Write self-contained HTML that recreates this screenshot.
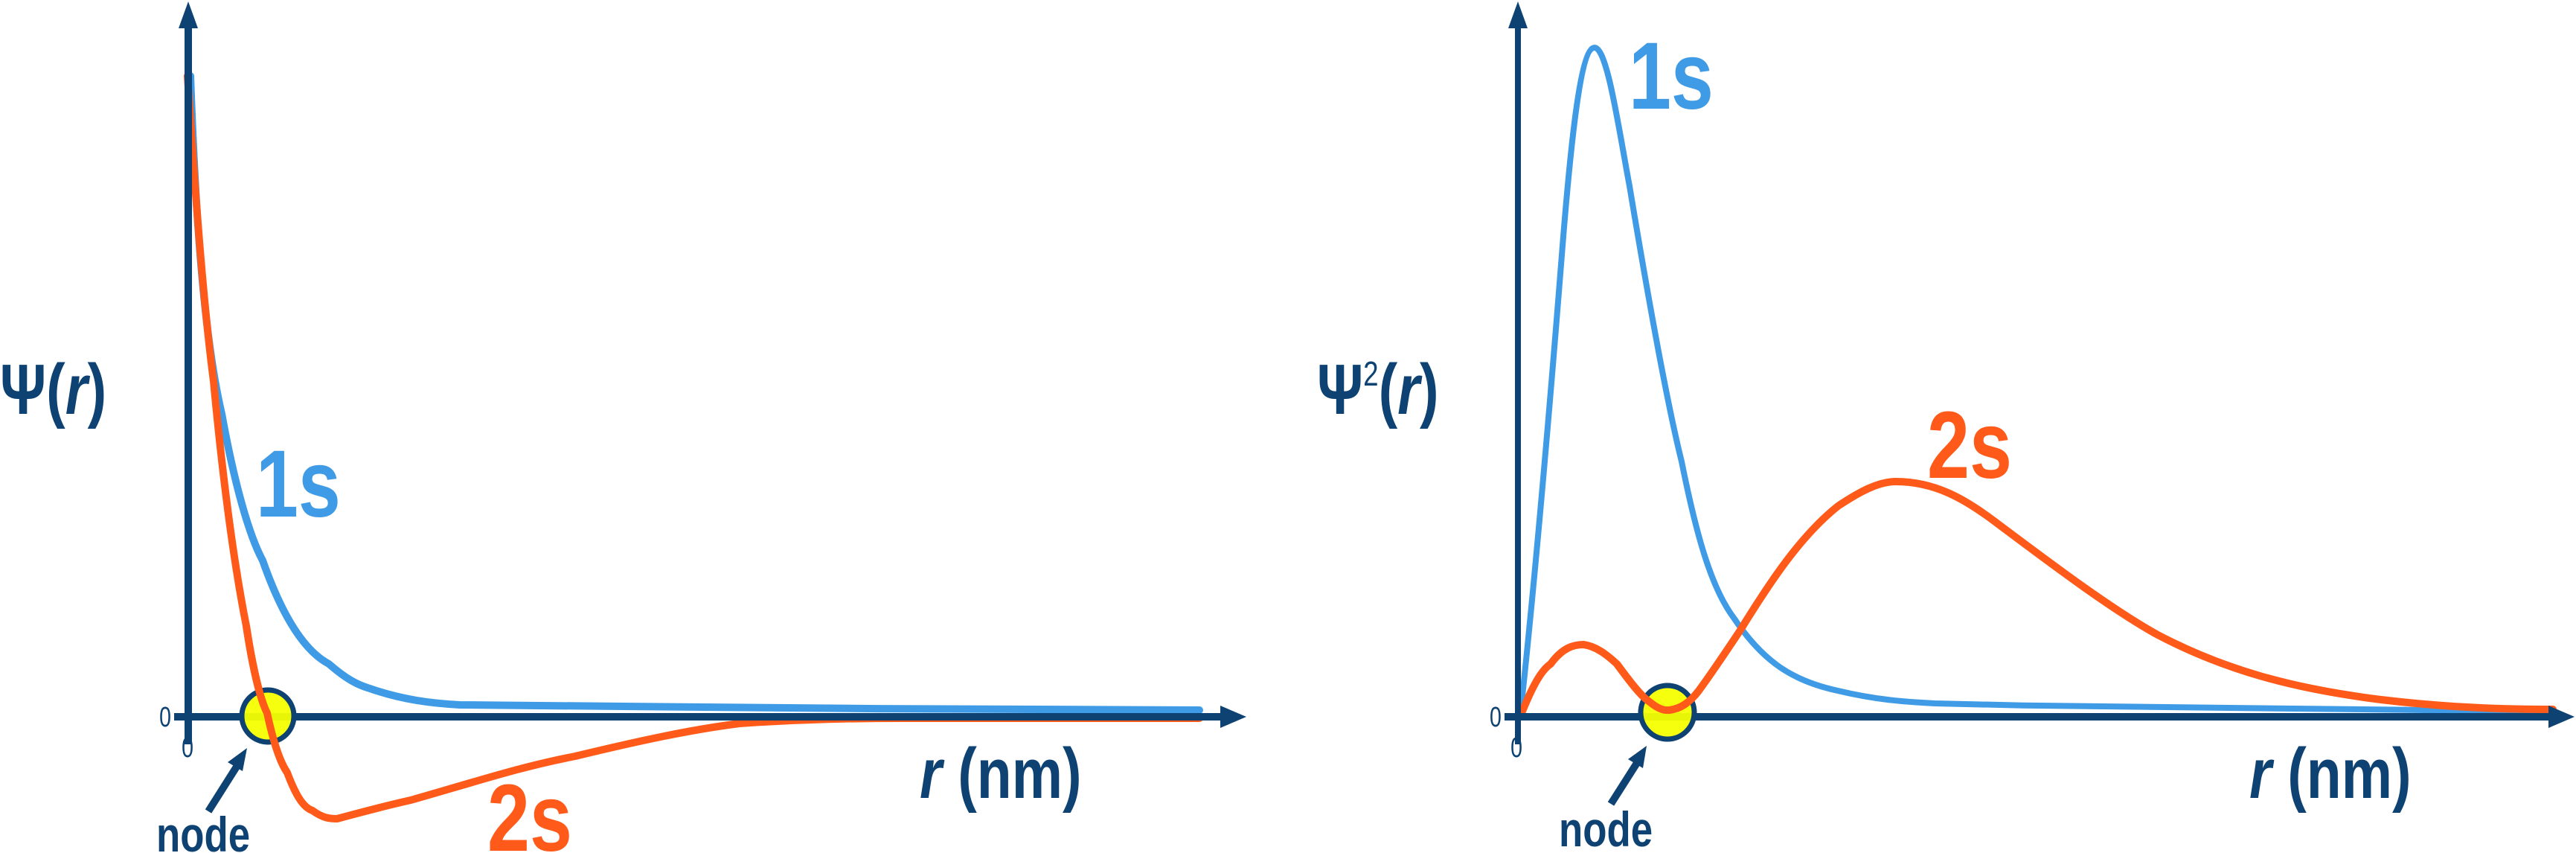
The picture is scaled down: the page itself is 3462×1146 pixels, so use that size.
<!DOCTYPE html>
<html><head><meta charset="utf-8"><style>
html,body{margin:0;padding:0;background:#fff;}
svg{display:block;}
text{font-family:"Liberation Sans",sans-serif;}
</style></head><body>
<svg width="3462" height="1146" viewBox="0 0 3462 1146" xmlns="http://www.w3.org/2000/svg">
<!-- LEFT CHART -->
<g fill="none" stroke-linecap="round" stroke-linejoin="round">
<path d="M256,102 C264,330 278,470 298,556 C315,650 335,720 353,753 C380,830 410,875 442,892 C465,912 480,920 497,925 C540,940 580,945 618,947 C900,951 1300,953 1612,954" stroke="#3f9be6" stroke-width="10"/>
<path d="M252,102 C265,300 275,420 287,512 C300,650 315,760 331,841 C340,900 350,940 359,958 C368,1000 377,1025 386,1038 C398,1070 408,1085 420,1089 C435,1100 445,1100 453,1100 C490,1090 520,1082 552,1075 C640,1050 700,1030 773,1016 C860,995 930,980 994,972 C1080,966 1150,965 1214,965 L1612,965" stroke="#ff5a1a" stroke-width="10"/>
</g>
<line x1="253" y1="1000" x2="253" y2="30" stroke="#0d4273" stroke-width="10"/>
<polygon points="253,2 240,38 266,38" fill="#0d4273"/>
<line x1="234" y1="963" x2="1645" y2="963" stroke="#0d4273" stroke-width="10"/>
<polygon points="1675,963 1640,948 1640,978" fill="#0d4273"/>
<circle cx="360" cy="962" r="35" fill="#f5ff00" fill-opacity="0.95" stroke="#0d4273" stroke-width="7"/>
<path d="M331,841 C340,900 350,940 359,958 C368,1000 377,1025 386,1038" fill="none" stroke="#ff5a1a" stroke-width="10"/>
<line x1="280" y1="1090" x2="318" y2="1030" stroke="#0d4273" stroke-width="10"/>
<polygon points="332,1005 306,1024 326,1036" fill="#0d4273"/>
<g fill="#0d4273" font-weight="bold">
<text x="222" y="976" font-size="38" text-anchor="middle" font-weight="normal" transform="translate(222,0) scale(0.75,1) translate(-222,0)">0</text>
<text x="252" y="1017" font-size="38" text-anchor="middle" font-weight="normal" transform="translate(252,0) scale(0.75,1) translate(-252,0)">0</text>
<text x="210" y="1144" font-size="66" transform="translate(210,0) scale(0.8,1) translate(-210,0)">node</text>
<text x="0" y="556" font-size="96" transform="scale(0.8,1)">Ψ(<tspan font-style="italic">r</tspan>)</text>
<text x="1236" y="1072" font-size="96" transform="translate(1236,0) scale(0.8,1) translate(-1236,0)"><tspan font-style="italic">r</tspan> (nm)</text>
</g>
<text x="344" y="694" font-size="128" font-weight="bold" fill="#3f9be6" transform="translate(344,0) scale(0.8,1) translate(-344,0)">1s</text>
<text x="655" y="1143" font-size="128" font-weight="bold" fill="#ff5a1a" transform="translate(655,0) scale(0.8,1) translate(-655,0)">2s</text>

<!-- RIGHT CHART -->
<g fill="none" stroke-linecap="round" stroke-linejoin="round">
<path d="M2043,963 C2065,760 2085,520 2100,330 C2112,180 2125,64 2143,64 C2160,64 2175,170 2190,250 C2215,400 2240,540 2260,620 C2280,720 2300,790 2330,830 C2370,890 2410,915 2470,928 C2520,940 2560,943 2600,945 C2800,950 2835,950 3431,956" stroke="#3f9be6" stroke-width="8"/>
<path d="M2043,963 C2060,920 2072,900 2084,892 C2100,870 2115,866 2128,866 C2145,868 2160,880 2173,892 C2190,915 2205,935 2217,943 C2228,952 2236,955 2244,954 C2258,952 2270,945 2283,928 C2300,905 2320,875 2338,848 C2380,780 2420,720 2470,680 C2500,660 2525,647 2548,647 C2600,647 2640,670 2680,700 C2760,760 2840,820 2900,853 C2990,900 3080,925 3200,940 C3300,952 3380,953 3431,953" stroke="#ff5a1a" stroke-width="10"/>
</g>
<line x1="2040" y1="1000" x2="2040" y2="30" stroke="#0d4273" stroke-width="8"/>
<polygon points="2040,2 2027,38 2053,38" fill="#0d4273"/>
<line x1="2022" y1="963" x2="3430" y2="963" stroke="#0d4273" stroke-width="10"/>
<polygon points="3460,963 3425,948 3425,978" fill="#0d4273"/>
<circle cx="2241" cy="957" r="36" fill="#f5ff00" fill-opacity="0.95" stroke="#0d4273" stroke-width="7"/>
<path d="M2173,892 C2190,915 2205,935 2217,943 C2228,952 2236,955 2244,954 C2258,952 2270,945 2283,928" fill="none" stroke="#ff5a1a" stroke-width="10"/>
<line x1="2165" y1="1080" x2="2200" y2="1025" stroke="#0d4273" stroke-width="10"/>
<polygon points="2213,1002 2188,1020 2208,1032" fill="#0d4273"/>
<g fill="#0d4273" font-weight="bold">
<text x="2010" y="976" font-size="38" text-anchor="middle" font-weight="normal" transform="translate(2010,0) scale(0.75,1) translate(-2010,0)">0</text>
<text x="2038" y="1017" font-size="38" text-anchor="middle" font-weight="normal" transform="translate(2038,0) scale(0.75,1) translate(-2038,0)">0</text>
<text x="2095" y="1137" font-size="66" transform="translate(2095,0) scale(0.8,1) translate(-2095,0)">node</text>
<text x="1770" y="556" font-size="96" transform="translate(1770,0) scale(0.8,1) translate(-1770,0)">Ψ<tspan font-size="46" dy="-38" font-weight="normal">2</tspan><tspan dy="38">(</tspan><tspan font-style="italic">r</tspan>)</text>
<text x="3023" y="1072" font-size="96" transform="translate(3023,0) scale(0.8,1) translate(-3023,0)"><tspan font-style="italic">r</tspan> (nm)</text>
</g>
<text x="2189" y="146" font-size="128" font-weight="bold" fill="#3f9be6" transform="translate(2189,0) scale(0.8,1) translate(-2189,0)">1s</text>
<text x="2590" y="642" font-size="128" font-weight="bold" fill="#ff5a1a" transform="translate(2590,0) scale(0.8,1) translate(-2590,0)">2s</text>
</svg>
</body></html>
